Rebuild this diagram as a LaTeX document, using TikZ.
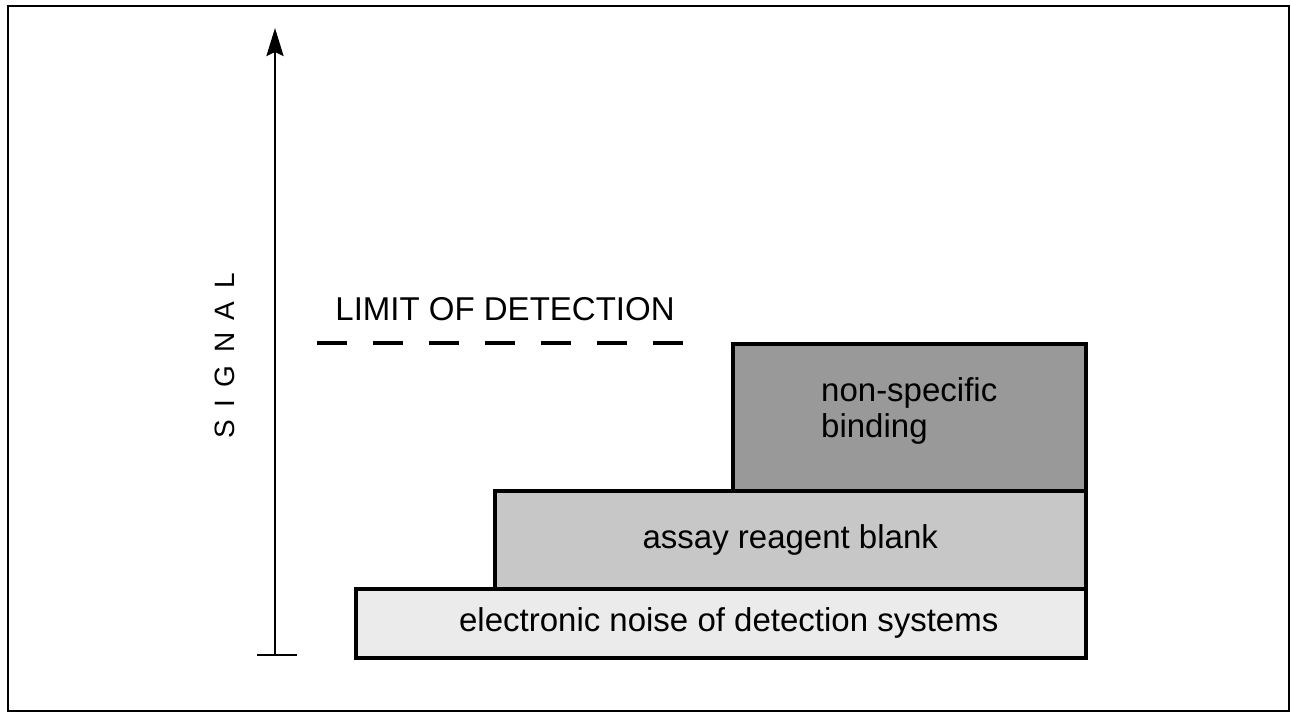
\documentclass[tikz,border=0pt]{standalone}
\usepackage{fontspec}
\setmainfont{Liberation Sans}
\usetikzlibrary{positioning, arrows.meta}

\begin{document}
\begin{tikzpicture}[
  x=1pt, y=-1pt,
  >={Stealth[length=28pt, width=17pt, inset=4pt]},
  layer/.style={rectangle, draw, line width=3.5pt, anchor=north west,
    inner sep=0pt, fill=#1},
  layer/.default={white},
  lbl/.style={font=\fontsize{33}{36}\selectfont, align=left},
  axis/.style={line width=2.8pt},
]
\useasboundingbox (0,0) rectangle (1291,715);

% --- Frame ---
\draw[line width=2pt] (8,6) rectangle (1289,711);

% --- Signal axis ---
\coordinate (axbot) at (275,655);
\coordinate (axtop) at (275,28);
\coordinate (tickl) at (257,655);
\coordinate (tickr) at (297,655);
\draw[axis, ->] (axbot) -- (axtop);
\draw[axis] (tickl) -- (tickr);
\node[font=\fontsize{28}{30}\selectfont, rotate=90] (sig) at (225,356)
  {S\hspace{.45em}I\hspace{.45em}G\hspace{.45em}N\hspace{.45em}A\hspace{.45em}L};

% --- Layers ---
\node[layer=black!8, minimum width=730pt, minimum height=69pt]
  (noise) at (354,587) {};
\node[layer=black!22, minimum width=591pt, minimum height=98pt]
  (blank) at (493,489) {};
\node[layer=black!40, minimum width=353pt, minimum height=147pt]
  (nsb) at (731,342) {};

\node[lbl] (noiselbl) at ([xshift=8pt]noise.center)
  {electronic noise of detection systems};
\node[lbl] (blanklbl) at (blank.center) {assay reagent blank};
\node[lbl] (nsblbl) at ([yshift=6pt]nsb.center) {non-specific\\binding};

% --- Limit of detection ---
\coordinate (lodl) at (317,343);
\coordinate (lodr) at (689,343);
\draw[line width=4.5pt, dash pattern=on 30pt off 26pt] (lodl) -- (lodr);
\node[lbl] (lod) at (505,309) {LIMIT OF DETECTION};

\end{tikzpicture}
\end{document}
